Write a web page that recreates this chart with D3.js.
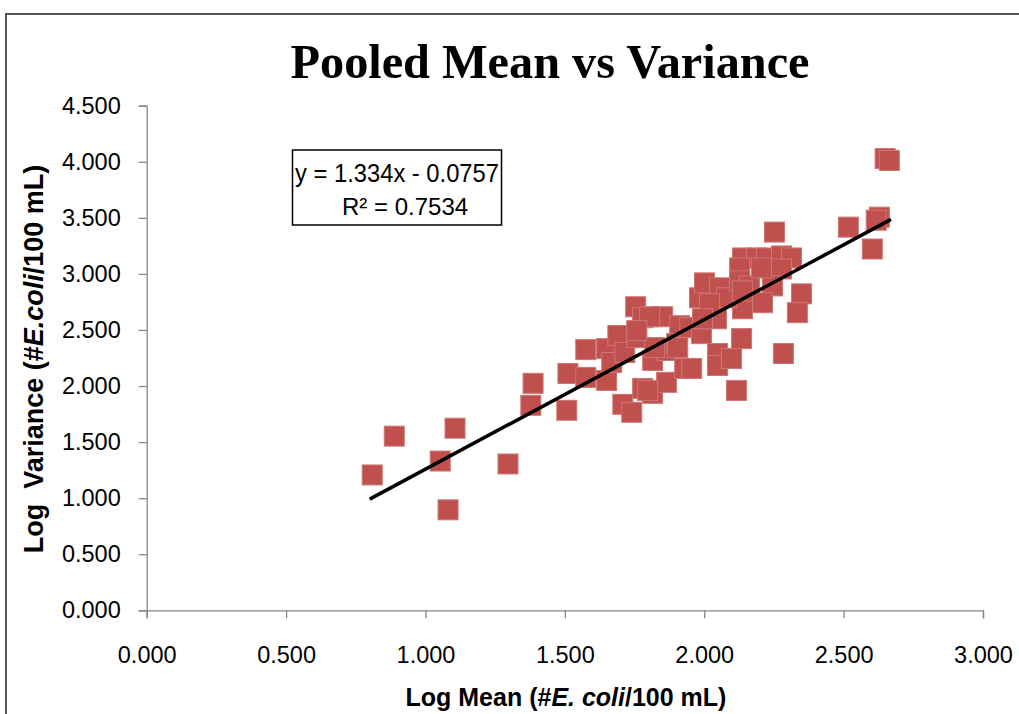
<!DOCTYPE html>
<html>
<head>
<meta charset="utf-8">
<script src="https://cdn.jsdelivr.net/npm/d3@7"></script>
<style>
body { margin: 0; background: #fff; }
svg { display: block; }
</style>
</head>
<body>
<svg width="1019" height="714"></svg>
<script>
// 点的数据 (log mean, log variance)
var logMean = [0.809, 0.888, 1.053, 1.106, 1.081, 1.296, 1.378, 1.386, 1.507, 1.511,
	1.575, 1.575, 1.650, 1.650, 1.668, 1.690, 1.715, 1.708, 1.740, 1.754,
	1.758, 1.779, 1.779, 1.815, 1.851, 1.815, 1.865, 1.865, 1.912, 1.901,
	1.930, 1.948, 1.983, 2.001, 1.990, 2.055, 2.044, 2.048, 2.048, 2.098,
	2.116, 2.134, 2.137, 2.080, 2.137, 2.187, 2.223, 2.277, 2.313, 2.127,
	2.277, 2.127, 2.162, 2.245, 2.019, 2.209, 2.349, 2.334, 2.284, 2.252,
	2.517, 2.628, 2.617, 2.603, 2.649, 2.664, 1.994, 1.955, 1.804, 1.822,
	1.905, 1.797, 2.205, 1.758, 2.137];
var logVariance = [1.207, 1.553, 1.331, 1.624, 0.896, 1.305, 1.828, 2.024, 1.784, 2.112,
	2.325, 2.077, 2.334, 2.050, 2.210, 2.450, 2.299, 1.837, 1.766, 2.707,
	2.432, 2.609, 1.979, 1.935, 2.618, 2.228, 2.317, 2.033, 2.538, 2.379,
	2.157, 2.521, 2.787, 2.920, 2.467, 2.876, 2.600, 2.290, 2.183, 2.245,
	1.961, 2.423, 2.689, 2.787, 3.142, 3.142, 3.142, 3.160, 3.142, 3.053,
	3.044, 2.938, 2.893, 2.893, 2.734, 2.743, 2.822, 2.654, 2.290, 3.373,
	3.417, 3.506, 3.479, 3.222, 4.029, 4.012, 2.600, 2.157, 2.618, 2.343,
	2.343, 1.961, 3.053, 2.494, 2.849];

var xTicks = [0, 0.5, 1.0, 1.5, 2.0, 2.5, 3.0];
var yTicks = [0, 0.5, 1.0, 1.5, 2.0, 2.5, 3.0, 3.5, 4.0, 4.5];

// 趋势线 y = 1.334x - 0.0757
var slope = 1.334;
var intercept = -0.0757;
var trendRange = [0.8, 2.67];

var svg = d3.select('svg');

// 外框
svg.append('rect')
	.attr('x', 6).attr('y', 14)
	.attr('width', 1030).attr('height', 720)
	.attr('style', 'fill:none;stroke:#555;stroke-width:2;');

var scale_x = d3.scaleLinear().domain([0, 3]).range([146.7, 983]);
var scale_y = d3.scaleLinear().domain([0, 4.5]).range([610.3, 105.7]);

var x_axis = d3.axisBottom(scale_x).tickValues(xTicks).tickFormat(d3.format('.3f'))
	.tickSize(8).tickPadding(28);
var y_axis = d3.axisLeft(scale_y).tickValues(yTicks).tickFormat(d3.format('.3f'))
	.tickSize(8).tickPadding(18);

var gx = svg.append('g').attr('transform', 'translate(0,' + scale_y(0) + ')').call(x_axis);
var gy = svg.append('g').attr('transform', 'translate(' + scale_x(0) + ',0)').call(y_axis);

[gx, gy].forEach(function(g){
	g.selectAll('path, line').attr('stroke', '#868686').attr('stroke-width', 1.3);
	g.selectAll('text').attr('fill', '#000')
		.style('font-family', '"Liberation Sans", Arial, sans-serif')
		.style('font-size', '23.5px');
});

// 点
var points = svg.append('g');
logMean.forEach(function(m, i){
	points.append('rect')
		.attr('x', scale_x(m) - 10)
		.attr('y', scale_y(logVariance[i]) - 10)
		.attr('width', 20).attr('height', 20)
		.attr('style', 'fill:#c0504d;stroke:#cd7774;stroke-width:1;');
});

// 趋势线
svg.append('line')
	.attr('x1', scale_x(trendRange[0])).attr('y1', scale_y(slope * trendRange[0] + intercept))
	.attr('x2', scale_x(trendRange[1])).attr('y2', scale_y(slope * trendRange[1] + intercept))
	.attr('style', 'stroke:#000;stroke-width:3.5;');

// 公式框
svg.append('rect')
	.attr('x', 292.5).attr('y', 150).attr('width', 209).attr('height', 75)
	.attr('style', 'fill:#fff;stroke:#000;stroke-width:1.5;');
svg.append('text')
	.attr('x', 295).attr('y', 182)
	.attr('textLength', 204).attr('lengthAdjust', 'spacingAndGlyphs')
	.style('font-family', '"Liberation Sans", Arial, sans-serif')
	.style('font-size', '25px')
	.text('y = 1.334x - 0.0757');
svg.append('text')
	.attr('x', 342).attr('y', 215)
	.style('font-family', '"Liberation Sans", Arial, sans-serif')
	.style('font-size', '24px')
	.text('R\u00B2 = 0.7534');

// 标题
svg.append('text')
	.attr('x', 550).attr('y', 78).attr('text-anchor', 'middle')
	.attr('textLength', 519).attr('lengthAdjust', 'spacingAndGlyphs')
	.style('font-family', '"Liberation Serif", "Times New Roman", serif')
	.style('font-size', '49px').style('font-weight', 'bold')
	.text('Pooled Mean vs Variance');

// x 轴标题
var xt = svg.append('text')
	.attr('x', 566).attr('y', 706).attr('text-anchor', 'middle')
	.style('font-family', '"Liberation Sans", Arial, sans-serif')
	.style('font-size', '25px').style('font-weight', 'bold');
xt.append('tspan').text('Log Mean (#');
xt.append('tspan').style('font-style', 'italic').text('E. coli');
xt.append('tspan').text('/100 mL)');

// y 轴标题
var yt = svg.append('text')
	.attr('transform', 'translate(43,359) rotate(-90)')
	.attr('text-anchor', 'middle')
	.style('white-space', 'pre')
	.style('font-family', '"Liberation Sans", Arial, sans-serif')
	.style('font-size', '27px').style('font-weight', 'bold');
yt.append('tspan').text('Log  Variance (#');
yt.append('tspan').style('font-style', 'italic').text('E.coli');
yt.append('tspan').text('/100 mL)');
</script>
</body>
</html>
